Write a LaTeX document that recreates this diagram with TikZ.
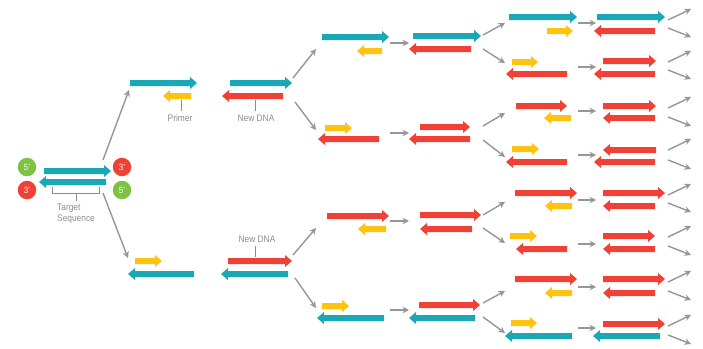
\documentclass[tikz,border=0pt]{standalone}
\usepackage{fontspec}
\setmainfont{Liberation Sans}[FakeStretch=0.88]
\usetikzlibrary{arrows.meta}
\definecolor{dteal}{RGB}{26,168,182}
\definecolor{dred}{RGB}{239,65,54}
\definecolor{dyel}{RGB}{255,194,14}
\definecolor{dgreen}{RGB}{125,194,66}
\definecolor{dgrey}{RGB}{150,150,150}
\definecolor{lgrey}{RGB}{140,140,140}
\tikzset{
  flow/.style={draw=dgrey, line width=1.4pt, -{Stealth[length=6.5pt,width=6.5pt]}},
  lbl/.style={text=lgrey, font=\fontsize{9.5}{11}\selectfont, inner sep=0pt},
  endcirc/.style={circle, minimum size=18.5pt, inner sep=0pt, text=white, font=\fontsize{9}{10}\selectfont},
  stem/.style={draw=lgrey, line width=0.8pt}
}
% right-pointing strand: x1, x2 (tip), y, colour
\newcommand\strandR[4]{\fill[#4] (#1,#3-3) -- (#2-7,#3-3) -- (#2-7,#3-6) -- (#2,#3) -- (#2-7,#3+6) -- (#2-7,#3+3) -- (#1,#3+3) -- cycle;}
% left-pointing strand: x1 (tip), x2 (tail), y, colour
\newcommand\strandL[4]{\fill[#4] (#2,#3-3) -- (#1+7,#3-3) -- (#1+7,#3-6) -- (#1,#3) -- (#1+7,#3+6) -- (#1+7,#3+3) -- (#2,#3+3) -- cycle;}
\begin{document}
\begin{tikzpicture}[x=1pt,y=-1pt]
\useasboundingbox (0,0) rectangle (703,348);
% ---- starting double strand
\strandR{44}{111}{171}{dteal}
\strandL{39}{106}{182}{dteal}
\node[endcirc, fill=dgreen] (c5a) at (27,167) {5'};
\node[endcirc, fill=dred]   (c3a) at (27,190) {3'};
\node[endcirc, fill=dred]   (c3b) at (122,167) {3'};
\node[endcirc, fill=dgreen] (c5b) at (122,190) {5'};
\draw[stem] (52,187) -- (52,193) -- (99,193) -- (99,187);
\coordinate (tsA) at (76,193);
\coordinate (tsB) at (76,201);
\draw[stem] (tsA) -- (tsB);
\node[lbl, anchor=north west, align=left] (target) at (57,204) {Target\\Sequence};
% ---- first split
\coordinate (s0a) at (103,160); \coordinate (s0b) at (129,90);
\coordinate (s0c) at (103,193); \coordinate (s0d) at (128,258);
\draw[flow] (s0a) -- (s0b);
\draw[flow] (s0c) -- (s0d);
% stage 1 / 2 top
\strandR{130}{197}{83}{dteal}
\strandL{163}{191}{96}{dyel}
\coordinate (pA) at (181,100); \coordinate (pB) at (181,111);
\draw[stem] (pA) -- (pB);
\node[lbl] (primer) at (180,118) {Primer};
\strandR{230}{292}{83}{dteal}
\strandL{222}{283}{96}{dred}
\coordinate (nA) at (255,100); \coordinate (nB) at (255,111);
\draw[stem] (nA) -- (nB);
\node[lbl] (newdna1) at (256,118) {New DNA};
% stage 1 / 2 bottom
\strandR{135}{162}{261}{dyel}
\strandL{128}{194}{274}{dteal}
\strandR{228}{292}{261}{dred}
\strandL{221}{288}{274}{dteal}
\coordinate (mA) at (255,246); \coordinate (mB) at (255,257);
\draw[stem] (mA) -- (mB);
\node[lbl] (newdna2) at (257,239) {New DNA};
% ---- second split
\draw[flow] (293,78) -- (316,49);
\draw[flow] (295,102) -- (316,130);
\draw[flow] (293,255) -- (316,228);
\draw[flow] (295,278) -- (316,308);
% stage 3
\strandR{322}{389}{37}{dteal}  \strandL{357}{382}{51}{dyel}
\strandR{325}{352}{128}{dyel}  \strandL{318}{379}{139}{dred}
\strandR{327}{389}{216}{dred}  \strandL{358}{386}{229}{dyel}
\strandR{322}{349}{306}{dyel}  \strandL{317}{384}{318}{dteal}
\foreach \y in {43,133,221,310}{\draw[flow] (390,\y) -- (409,\y);}
% stage 4
\strandR{413}{481}{36}{dteal}  \strandL{409}{471}{49}{dred}
\strandR{420}{470}{127}{dred}  \strandL{409}{470}{139}{dred}
\strandR{420}{481}{215}{dred}  \strandL{420}{472}{229}{dred}
\strandR{419}{480}{305}{dred}  \strandL{409}{475}{318}{dteal}
% ---- third split
\draw[flow] (483,35) -- (505,23);   \draw[flow] (483,49) -- (505,63);
\draw[flow] (483,126) -- (505,113); \draw[flow] (483,140) -- (505,157);
\draw[flow] (483,215) -- (505,202); \draw[flow] (483,228) -- (505,243);
\draw[flow] (483,303) -- (505,291); \draw[flow] (483,317) -- (505,333);
% stage 5
\strandR{509}{577}{17}{dteal}  \strandR{547}{573}{31}{dyel}
\strandR{512}{538}{62}{dyel}   \strandL{506}{567}{74}{dred}
\strandR{516}{567}{106}{dred}  \strandL{544}{571}{118}{dyel}
\strandR{512}{539}{149}{dyel}  \strandL{506}{567}{162}{dred}
\strandR{515}{577}{193}{dred}  \strandL{545}{572}{206}{dyel}
\strandR{510}{537}{236}{dyel}  \strandL{516}{567}{249}{dred}
\strandR{515}{577}{279}{dred}  \strandL{545}{572}{293}{dyel}
\strandR{511}{537}{323}{dyel}  \strandL{505}{572}{336}{dteal}
\foreach \y in {23,67,111,155,200,244,287,328}{\draw[flow] (578,\y) -- (596,\y);}
% stage 6
\strandR{597}{665}{17}{dteal}  \strandL{594}{655}{31}{dred}
\strandR{603}{656}{61}{dred}   \strandL{594}{655}{74}{dred}
\strandR{603}{656}{106}{dred}  \strandL{603}{655}{118}{dred}
\strandL{603}{656}{150}{dred}  \strandL{594}{655}{162}{dred}
\strandR{603}{665}{193}{dred}  \strandL{603}{655}{206}{dred}
\strandR{603}{655}{236}{dred}  \strandL{603}{655}{249}{dred}
\strandR{603}{665}{279}{dred}  \strandL{603}{655}{293}{dred}
\strandR{603}{665}{324}{dred}  \strandL{593}{660}{336}{dteal}
% ---- output arrows
\foreach \a/\b in {20/28,62/70,108/117,150/160,195/203,237/246,282/291,326/335}{
  \draw[flow] (668,\a) -- (691,\a-11);
  \draw[flow] (668,\b) -- (691,\b+9);
}
\end{tikzpicture}
\end{document}
